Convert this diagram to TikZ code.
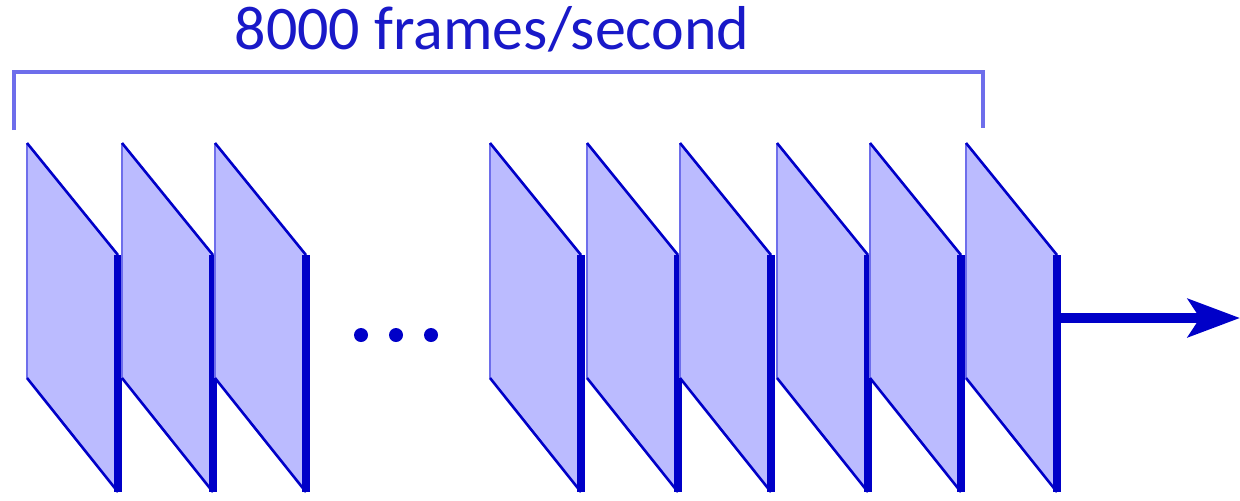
\documentclass[tikz,border=0pt]{standalone}
\usepackage{fontspec}
\setmainfont{Carlito}
\usetikzlibrary{arrows.meta}
\definecolor{dblue}{RGB}{0,0,200}
\definecolor{lblue}{RGB}{187,187,255}
\definecolor{mblue}{RGB}{110,110,235}
\definecolor{tblue}{RGB}{25,25,200}
\tikzset{
  framefill/.style={fill=lblue, draw=none},
  frameedge/.style={draw=dblue, line width=1.3pt},
  frameleft/.style={draw=mblue, line width=0.8pt},
  framebar/.style={draw=dblue, line width=4pt},
  bracket/.style={draw=mblue, line width=1.6pt},
  dot/.style={circle, fill=dblue, inner sep=0pt, minimum size=7pt},
  flow/.style={draw=dblue, line width=4.8pt, -{Stealth[length=26pt, width=19pt, inset=6pt]}},
  label/.style={text=tblue, font=\fontsize{31pt}{35pt}\selectfont, inner sep=0pt}
}
\begin{document}
\begin{tikzpicture}[x=0.5pt, y=-0.5pt]
\useasboundingbox (0,0) rectangle (1240,500);
% label and bracket
\node[label, anchor=base] (lbl) at (492,49) {8000 frames/second};
\coordinate (bl) at (14,130);
\coordinate (br) at (983,128);
\draw[bracket] (bl) |- (498,72) -| (br);
% frames
\foreach \x [count=\i] in {27,122,215,490,587,680,777,870,966} {
  \coordinate (f\i tl) at (\x,143);
  \coordinate (f\i tr) at (\x+91,255);
  \coordinate (f\i br) at (\x+91,492);
  \coordinate (f\i bl) at (\x,378);
  \fill[framefill] (f\i tl) -- (f\i tr) -- (f\i br) -- (f\i bl) -- cycle;
  \draw[frameleft] (f\i tl) -- (f\i bl);
  \draw[frameedge] (f\i tl) -- (f\i tr);
  \draw[frameedge] (f\i bl) -- (f\i br);
  \draw[framebar] (f\i tr) -- (f\i br);
}
% dots
\node[dot] (d1) at (361,335) {};
\node[dot] (d2) at (396,335) {};
\node[dot] (d3) at (431,335) {};
% output arrow
\coordinate (out) at (1061,318);
\coordinate (tip) at (1240,318);
\draw[flow] (out) -- (tip);
\end{tikzpicture}
\end{document}
